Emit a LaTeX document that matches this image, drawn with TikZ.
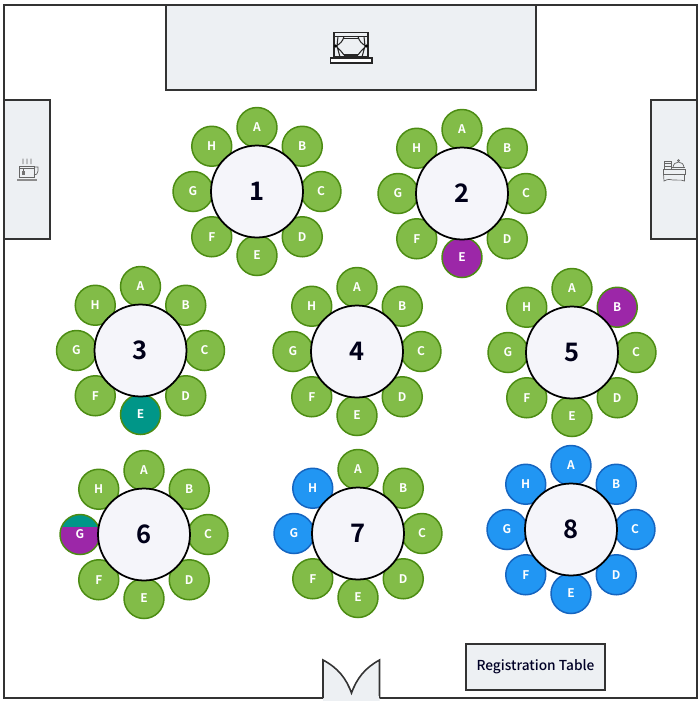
\documentclass[tikz,border=0pt]{standalone}
\usepackage{fontspec}
\setmainfont{Noto Sans CJK SC}[BoldFont={Noto Sans CJK SC Bold}]
\newfontfamily\labelfont{Noto Sans CJK SC Medium}
\definecolor{roomfill}{HTML}{EDF0F3}
\definecolor{roomline}{HTML}{333333}
\definecolor{tablefill}{HTML}{F5F5FA}
\definecolor{seatgreen}{HTML}{82BC48}
\definecolor{seatgreenline}{HTML}{4C8C13}
\definecolor{seatblue}{HTML}{2196F3}
\definecolor{seatblueline}{HTML}{1565C0}
\definecolor{seatpurple}{HTML}{9C27A8}
\definecolor{seatteal}{HTML}{009688}
\tikzset{
    %Define style for room furniture
    roombox/.style={
             rectangle,
             draw=roomline, fill=roomfill,
             line width=1.1pt},
    %Define style for round tables and seats
    tablenode/.style={
             circle,
             draw=black, fill=tablefill,
             line width=1pt,
             minimum size=1.84cm,
             inner sep=0pt,
             text=black!90!blue,
             font=\fontsize{14.5}{16}\selectfont\bfseries},
    seatnode/.style={
             circle,
             draw=seatgreenline, fill=seatgreen,
             line width=0.85pt,
             minimum size=0.8cm,
             inner sep=0pt,
             text=white,
             font=\fontsize{6.8}{8}\selectfont\bfseries},
    blueseat/.style={
             draw=seatblueline, fill=seatblue},
    purpleseat/.style={
             draw=seatgreenline, fill=seatpurple},
    tealseat/.style={
             draw=seatgreenline, fill=seatteal},
    splitseat/.style={
             draw=seatgreenline, fill=seatpurple,
             path picture={\fill[seatteal] (path picture bounding box.north west) rectangle ([yshift=-0.24cm]path picture bounding box.north east);}},
    % Define icon line styles
    iconline/.style={
             draw=black!85, line width=0.6pt},
    smallicon/.style={
             draw=black!60, line width=0.4pt},
    % Seats that differ from the plain green ones
    s2E/.style={purpleseat},
    s3E/.style={tealseat},
    s5B/.style={purpleseat},
    s6G/.style={splitseat},
    s7G/.style={blueseat},
    s7H/.style={blueseat},
    s8A/.style={blueseat}, s8B/.style={blueseat},
    s8C/.style={blueseat}, s8D/.style={blueseat},
    s8E/.style={blueseat}, s8F/.style={blueseat},
    s8G/.style={blueseat}, s8H/.style={blueseat}
}
\begin{document}
\begin{tikzpicture}[x=0.02cm, y=-0.02cm]
 \useasboundingbox (0,0) rectangle (700,701);
 % room
 \draw[draw=roomline, line width=1.1pt] (4,5) rectangle (697,698);
 \node[roombox, minimum width=7.4cm, minimum height=1.7cm] (stage) at (351,47.5) {};
 \node[roombox, minimum width=0.92cm, minimum height=2.78cm] (coffee) at (27,169.5) {};
 \node[roombox, minimum width=0.92cm, minimum height=2.78cm] (buffet) at (674,169.5) {};
 \node[roombox, minimum width=2.78cm, minimum height=0.92cm, text=black!85!blue, font=\labelfont\fontsize{7.8}{10}\selectfont] (registration) at (535.5,667) {Registration Table};
 % door
 \fill[roomfill] (323,660) .. controls (338,668) and (346,678) .. (351.5,693) .. controls (357,678) and (365,668) .. (379.5,660) -- (379.5,701) -- (323,701) -- cycle;
 \draw[draw=roomline, line width=0.9pt] (323,698) -- (323,660) .. controls (338,668) and (346,678) .. (351.5,693) .. controls (357,678) and (365,668) .. (379.5,660) -- (379.5,698);
 \fill[roomfill] (323.6,696) rectangle (379,701);
 % stage icon
 \draw[iconline] (334,32.5) rectangle (368,57);
 \draw[iconline] (334,36.5) -- (368,36.5);
 \draw[iconline, line width=0.8pt] (344,38.5) -- (358,38.5);
 \draw[iconline] (338,36.5) -- (337,46) -- (340,57) (344,36.5) .. controls (343,41) and (340,44) .. (336,46) .. controls (339,49) and (342,52) .. (344,55);
 \draw[iconline] (364,36.5) -- (365,46) -- (362,57) (358,36.5) .. controls (359,41) and (362,44) .. (366,46) .. controls (363,49) and (360,52) .. (358,55);
 \draw[iconline] (344,55) -- (358,55);
 \fill[black] (335.5,46) circle (1.6) (366.5,46) circle (1.6);
 \draw[iconline, fill=white, line width=0.8pt] (330.5,58) rectangle (372,63);
 % cup icon
 \draw[smallicon] (19.5,166) rectangle (34,177.5);
 \draw[smallicon] (19.5,168.5) -- (34,168.5);
 \draw[smallicon] (34,167) -- (38,167) -- (38,171) .. controls (38,174) and (36,175) .. (34,175);
 \draw[smallicon] (23,168.5) -- (23,171);
 \fill[black!55] (22,171) rectangle (24.5,174.5);
 \fill[black!45] (17,179) rectangle (36.5,181);
 \foreach \sx in {23,27,31}
  \draw[smallicon] (\sx,164) .. controls (\sx-1.5,162) and (\sx+1.5,161) .. (\sx,158.5);
 % buffet icon
 \draw[smallicon] (663,169) rectangle (685,174);
 \draw[smallicon] (663.5,174) -- (664,181) .. controls (668,179) and (670,179) .. (673,180) .. controls (677,181) and (680,179) .. (684.5,181) -- (684.5,174);
 \draw[smallicon] (664,161) rectangle (671,169);
 \draw[smallicon] (664,163.5) -- (671,163.5) (664,166) -- (671,166);
 \draw[smallicon] (673,168) .. controls (673,160) and (684,160) .. (684,168);
 \draw[smallicon] (672,167.5) -- (685,167.5);
 \draw[smallicon] (678.5,160.5) circle (1);
 % tables with their seats
 \foreach \tnum/\tx/\ty in {1/257/191.5, 2/462/193.5, 3/140.5/350.5, 4/357/351.5,
                            5/572/352.5, 6/144/534.5, 7/358/533.5, 8/571/529.5} {
  \coordinate (c\tnum) at (\tx,\ty);
  \foreach \seat/\ang in {A/-90, B/-45, C/0, D/45, E/90, F/135, G/180, H/225}
   \node[seatnode, s\tnum\seat/.try] (s\tnum\seat) at ([shift={(\ang:64)}]c\tnum) {\seat};
  \node[tablenode] (t\tnum) at (c\tnum) {\tnum};
 }
\end{tikzpicture}
\end{document}
